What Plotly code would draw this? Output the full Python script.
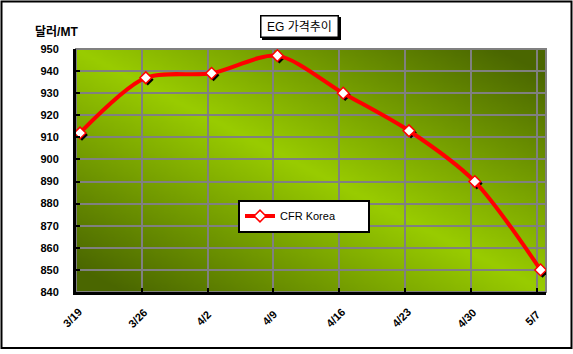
import base64, struct, zlib
import plotly.graph_objects as go

# ---- data ----
categories = ["3/19", "3/26", "4/2", "4/9", "4/16", "4/23", "4/30", "5/7"]
cfr_korea = [912, 937, 939, 947, 930, 913, 890, 850]
y_ticks = [840, 850, 860, 870, 880, 890, 900, 910, 920, 930, 940, 950]
series_name = "CFR Korea"
title_text = "EG 가격추이"
y_unit = "달러/MT"

W, H = 573, 354
ML, MR, MT, MB = 76, 27, 49, 62
PW, PH = W - ML - MR, H - MT - MB
x_idx = list(range(len(categories)))
x_range = [0, len(categories) - 1 + 1 / 7]
y_range = [840, 950]

# ---- gradient background image (diagonal) ----
def make_png(w, h):
    bright = (0x99, 0xCC, 0x00)
    dark = (0x4A, 0x66, 0x00)
    rows = []
    for j in range(h):
        row = bytearray([0])
        for i in range(w):
            u, v = i / (w - 1), j / (h - 1)
            t = min(1.0, abs(u - v) * 1.1)
            row += bytes(int(round(bright[k] + (dark[k] - bright[k]) * t)) for k in range(3))
        rows.append(bytes(row))
    raw = b"".join(rows)
    def chunk(tag, data):
        c = tag + data
        return struct.pack(">I", len(data)) + c + struct.pack(">I", zlib.crc32(c) & 0xFFFFFFFF)
    png = b"\x89PNG\r\n\x1a\n" + chunk(b"IHDR", struct.pack(">IIBBBBB", w, h, 8, 2, 0, 0, 0))
    png += chunk(b"IDAT", zlib.compress(raw, 9)) + chunk(b"IEND", b"")
    return "data:image/png;base64," + base64.b64encode(png).decode()

bg_src = make_png(160, 90)

font_lat = "Liberation Sans, Arial, Noto Sans CJK KR"
font_kr = "Liberation Sans, Noto Sans CJK KR"

ux = (x_range[1] - x_range[0]) / PW   # data units per pixel
uy = (y_range[1] - y_range[0]) / PH
data_dx = 4 * ux                       # points sit 4 px right of grid lines
sh = 2                                 # marker shadow offset in px

fig = go.Figure()
fig.add_trace(go.Scatter(
    x=x_idx, y=cfr_korea, mode="markers", xaxis="x2", yaxis="y2",
    marker=dict(symbol="diamond", size=9, color="black"),
    showlegend=False, hoverinfo="skip"))
fig.add_trace(go.Scatter(
    x=x_idx, y=cfr_korea, mode="lines+markers", name=series_name,
    xaxis="x3", yaxis="y3",
    line=dict(color="#FF0000", width=4, shape="spline", smoothing=0.8),
    marker=dict(symbol="diamond", size=9, color="white", line=dict(color="#FF0000", width=1.5))))

axis_common = dict(showticklabels=False, showgrid=False, zeroline=False, showline=False, ticks="")
fig.update_layout(
    width=W, height=H,
    margin=dict(l=ML, r=MR, t=MT, b=MB),
    paper_bgcolor="white", plot_bgcolor="rgba(0,0,0,0)",
    xaxis=dict(range=x_range, tickvals=x_idx, showticklabels=False,
               showgrid=True, gridcolor="#808080", gridwidth=1.5,
               showline=True, linecolor="black", linewidth=3,
               ticks="inside", ticklen=4, tickcolor="black", tickwidth=2, zeroline=False),
    yaxis=dict(range=y_range, tickvals=y_ticks,
               tickfont=dict(family=font_lat, size=11, color="black", weight="bold"),
               showgrid=True, gridcolor="#808080", gridwidth=1.5,
               showline=True, linecolor="black", linewidth=3,
               ticks="inside", ticklen=4, tickcolor="black", tickwidth=2,
               ticklabelstandoff=12, zeroline=False),
    xaxis2=dict(range=[x_range[0] - data_dx - sh * ux, x_range[1] - data_dx - sh * ux],
                overlaying="x", **axis_common),
    yaxis2=dict(range=[y_range[0] + sh * uy, y_range[1] + sh * uy], overlaying="y", **axis_common),
    xaxis3=dict(range=[x_range[0] - data_dx, x_range[1] - data_dx], overlaying="x", **axis_common),
    yaxis3=dict(range=y_range, overlaying="y", **axis_common),
    legend=dict(x=(304 - ML) / PW, y=(292 - 216) / PH, xanchor="center", yanchor="middle",
                orientation="h", entrywidth=83, entrywidthmode="pixels",
                bgcolor="white", bordercolor="black", borderwidth=2,
                font=dict(family=font_lat, size=11, color="black")),
    images=[dict(source=bg_src, xref="paper", yref="paper", x=0, y=1, sizex=1, sizey=1,
                 sizing="stretch", layer="below", xanchor="left", yanchor="top")],
    shapes=[
        dict(type="rect", xref="paper", yref="paper", x0=0, x1=1, y0=0, y1=1,
             line=dict(color="#808080", width=2), layer="below"),
        dict(type="rect", xref="paper", yref="paper",
             x0=(1.5 - ML) / PW, x1=(571.5 - ML) / PW,
             y0=(292 - 348) / PH, y1=(292 - 1.5) / PH,
             line=dict(color="black", width=2)),
    ],
)

ann = []
# title shadow box + title
tx, ty = (299.5 - ML) / PW, (292 - 26) / PH
ann.append(dict(text=" ", x=tx, y=ty, xref="paper", yref="paper", showarrow=False,
                xanchor="center", yanchor="middle", width=72, height=16,
                xshift=2, yshift=-2, font=dict(family=font_kr, size=12, color="black"),
                bgcolor="black", bordercolor="black", borderwidth=1.5, borderpad=2))
ann.append(dict(text=title_text, x=tx, y=ty, xref="paper", yref="paper", showarrow=False,
                xanchor="center", yanchor="middle", width=72, height=16,
                font=dict(family=font_kr, size=12, color="black"),
                bgcolor="white", bordercolor="black", borderwidth=1.5, borderpad=2))
# y unit label
ann.append(dict(text=y_unit, x=(33 - ML) / PW, y=(292 - 32) / PH, xref="paper", yref="paper",
                xanchor="left", yanchor="middle", showarrow=False,
                font=dict(family=font_kr, size=12, color="black", weight="bold")))
# rotated category labels
for i, c in enumerate(categories):
    ann.append(dict(text=c, x=i, y=0, xref="x", yref="paper", xanchor="center", yanchor="middle",
                    xshift=-4, yshift=-26, textangle=-45, showarrow=False,
                    font=dict(family=font_lat, size=11, color="black", weight="bold")))
fig.update_layout(annotations=ann)

fig.write_html("out.html")
